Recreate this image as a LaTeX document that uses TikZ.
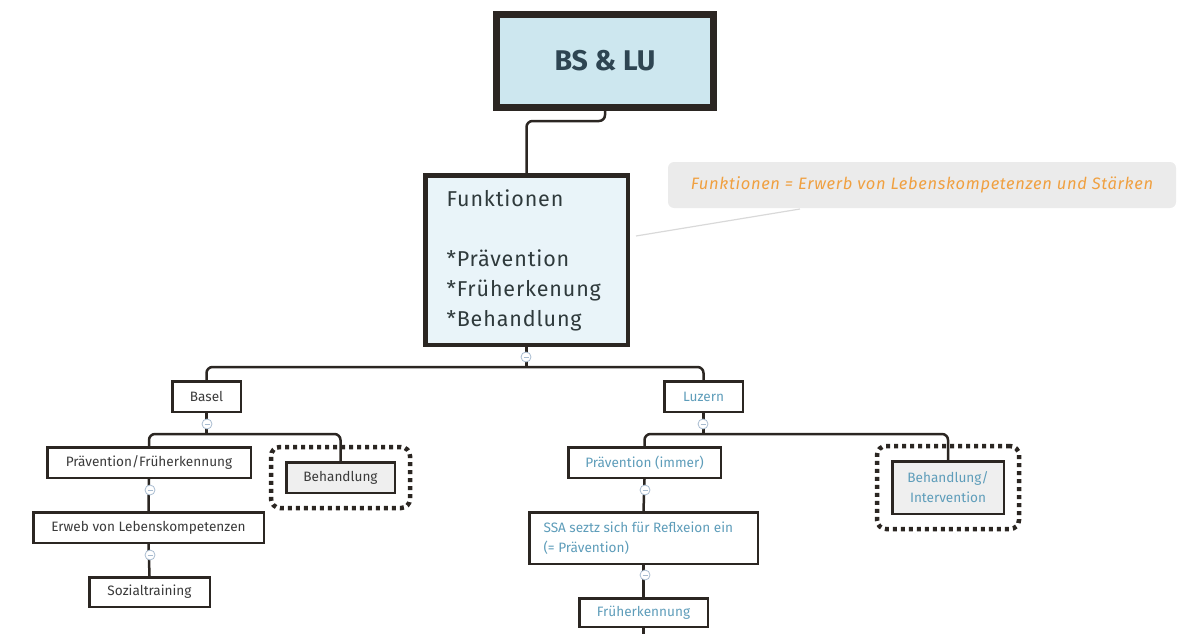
\documentclass[tikz,border=0pt]{standalone}
\usepackage{fontspec}
\setmainfont{Fira Sans}
\usetikzlibrary{fit}
\definecolor{linec}{HTML}{2B2622}
\definecolor{topfill}{HTML}{CDE7EF}
\definecolor{funfill}{HTML}{E9F4F9}
\definecolor{toptext}{HTML}{2E4552}
\definecolor{funtext}{HTML}{2F3A3C}
\definecolor{darktext}{HTML}{3A3A3A}
\definecolor{bluetext}{HTML}{5E9DBA}
\definecolor{graybox}{HTML}{EFEFEF}
\definecolor{notefill}{HTML}{EBEBEB}
\definecolor{notetext}{HTML}{F0A040}
\definecolor{knob}{HTML}{A8BCD0}
\begin{document}
\begin{tikzpicture}[x=1pt,y=-1pt,
  conn/.style={draw=linec, line width=2.5pt, rounded corners=6pt},
  smallbox/.style={draw=linec, line width=2.5pt, fill=white, inner sep=0pt,
    minimum height=30.5pt, font=\fontsize{13.6}{15}\selectfont},
  bsbox/.style={smallbox, text=darktext},
  lubox/.style={smallbox, text=bluetext},
  grayfill/.style={fill=graybox},
  dotframe/.style={draw=linec, line width=4.5pt, dash pattern=on 4pt off 4pt,
    rounded corners=9pt, inner xsep=14pt, inner ysep=14pt},
  knobc/.style={circle, draw=knob, line width=0.8pt, fill=white,
    minimum size=10pt, inner sep=0pt,
    path picture={\draw[knob, line width=0.8pt]
      ([xshift=-2.5pt]path picture bounding box.center) --
      ([xshift=2.5pt]path picture bounding box.center);}}
]
\useasboundingbox (0,0) rectangle (1185,634);

% root and function box
\node[draw=linec, line width=7pt, fill=topfill, minimum width=217pt,
  minimum height=93pt, inner sep=0pt, text=toptext,
  font=\fontsize{28.5}{30}\selectfont\bfseries] (root) at (605,61) {BS \& LU};
\node[draw=linec, line width=4.5pt, fill=funfill, minimum width=202.5pt,
  minimum height=169.5pt, inner sep=0pt, text=funtext,
  font=\fontsize{21.5}{30}\selectfont\addfontfeature{LetterSpace=4}] (fun) at (526.5,260)
  {\parbox{160pt}{Funktionen\\[30pt]*Prävention\\{}*Früherkenung\\{}*Behandlung}};

% note with pointer
\coordinate (notetip) at (636,236);
\draw[draw=black!15, line width=1.2pt] (800,209) -- (notetip);
\node[fill=notefill, rounded corners=6pt, minimum width=508pt, minimum height=46pt,
  inner sep=0pt, text=notetext,
  font=\fontsize{16.5}{18}\selectfont\itshape\addfontfeature{LetterSpace=4}]
  (note) at (922,185) {Funktionen = Erwerb von Lebenskompetenzen und Stärken};

% first level
\node[bsbox, minimum width=68.5pt] (basel) at (206.5,396.5) {Basel};
\node[lubox, minimum width=78.5pt] (luzern) at (703.5,396.5) {Luzern};

% Basel branch
\node[bsbox, minimum width=203.5pt] (bpf) at (149,462.5) {Prävention/Früherkennung};
\node[bsbox, minimum width=230.5pt] (berw) at (148.5,527.5) {Erweb von Lebenskompetenzen};
\node[bsbox, minimum width=120.5pt, minimum height=29.5pt] (bsoz) at (149.5,592) {Sozialtraining};
\node[bsbox, grayfill, minimum width=108.5pt] (bbeh) at (340.5,477.5) {Behandlung};
\node[dotframe, fit=(bbeh)] (bbehframe) {};

% Luzern branch
\node[lubox, minimum width=152.5pt] (lprae) at (644.5,462.5) {Prävention (immer)};
\node[lubox, minimum width=228.5pt, minimum height=51.5pt] (lssa) at (643.5,538)
  {\parbox{200pt}{\baselineskip=20pt SSA seztz sich für Reflxeion ein\\(= Prävention)}};
\node[lubox, minimum width=128.5pt, minimum height=28.5pt] (lfrueh) at (643.5,612.5) {Früherkennung};
\node[lubox, grayfill, minimum width=111.5pt, minimum height=52.5pt, align=center,
  font=\fontsize{13.6}{20}\selectfont] (lbeh) at (948,487.5) {Behandlung/\\Intervention};
\node[dotframe, fit=(lbeh)] (lbehframe) {};
\coordinate (lend) at (643.5,634);

% connectors
\draw[conn] (root.south) -- ++(0,10) -| (fun.north);
\draw[conn] (fun.south) -- (fun.south |- 0,367);
\draw[conn] (basel.north) |- (fun.south |- 0,367) -| (luzern.north);
\draw[conn] (basel.south) -- (basel.south |- 0,434);
\draw[conn] (bpf.north) |- (basel.south |- 0,434) -| (bbeh.north);
\draw[conn] (bpf.south) -- (berw.north);
\draw[conn] (berw.south) -- (bsoz.north);
\draw[conn] (luzern.south) -- (luzern.south |- 0,434);
\draw[conn] (lprae.north) |- (luzern.south |- 0,434) -| (lbeh.north);
\draw[conn] (lprae.south) -- (lssa.north);
\draw[conn] (lssa.south) -- (lfrueh.north);
\draw[conn] (lfrueh.south) -- (lend);

% collapse knobs
\node[knobc] (k1) at (526,357) {};
\node[knobc] (k2) at (207,424) {};
\node[knobc] (k3) at (150,490) {};
\node[knobc] (k4) at (150,555) {};
\node[knobc] (k5) at (703,424) {};
\node[knobc] (k6) at (645,490) {};
\node[knobc] (k7) at (645,575) {};
\end{tikzpicture}
\end{document}
